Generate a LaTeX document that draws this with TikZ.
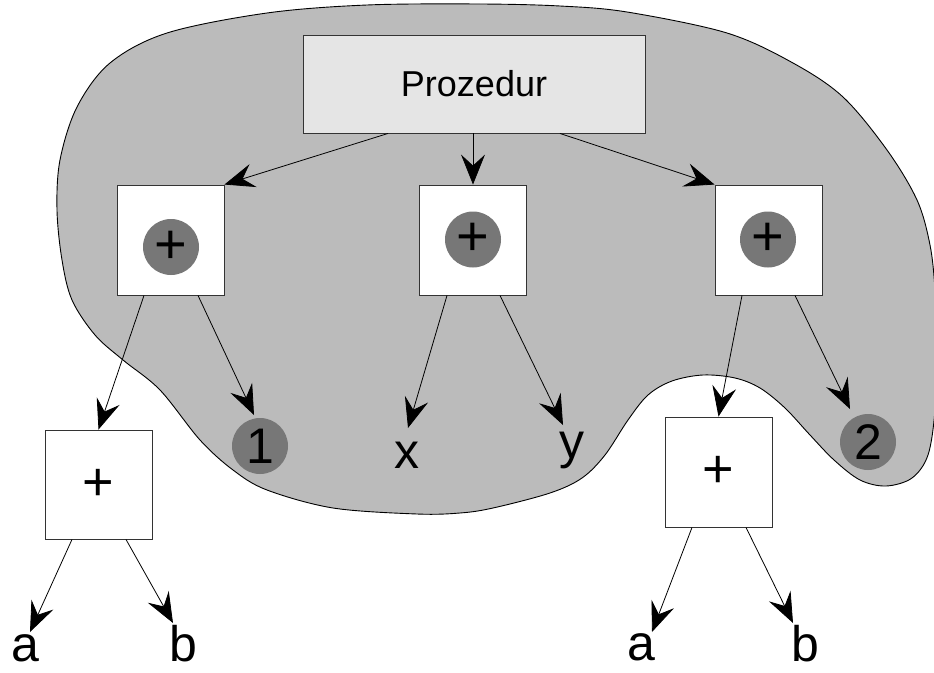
\documentclass[tikz,border=0pt]{standalone}
\usepackage{fontspec}
\setmainfont{Liberation Sans}
\usetikzlibrary{arrows.meta}
\definecolor{blobgray}{HTML}{BBBBBB}
\definecolor{headgray}{HTML}{E5E5E5}
\definecolor{opgray}{HTML}{777777}
\begin{document}
\begin{tikzpicture}[x=1pt,y=-1pt,
  blob/.style={fill=blobgray,draw=black,line width=0.9pt},
  procbox/.style={draw=black!80,fill=headgray,line width=0.9pt,minimum width=342pt,
    minimum height=98pt,inner sep=0pt,font=\fontsize{36}{40}\selectfont},
  opbox/.style={draw=black!80,fill=white,line width=0.9pt,minimum width=107pt,
    minimum height=110pt,inner sep=0pt,font=\fontsize{54}{58}\selectfont},
  opdot/.style={circle,fill=opgray,minimum size=56pt,inner sep=0pt,
    font=\fontsize{50}{54}\selectfont},
  plusdot/.style={opdot,font=\fontsize{56}{60}\selectfont},
  leaf/.style={inner sep=0pt,anchor=base,font=\fontsize{50}{54}\selectfont},
  edge/.style={-{Stealth[length=30pt,width=24pt,inset=11pt]},line width=0.8pt},
]
\useasboundingbox (0,0) rectangle (934,672);

% shaded region around the procedure body
\begin{scope}
\clip (0,0) rectangle (934,672);
\draw[blob] plot[smooth cycle,tension=0.55] coordinates {
  (480,4) (560,6) (627,12) (727,33) (793,63) (843,97) (887,150) (917,200)
  (930,245) (935,290) (937,350) (935,410) (928,455) (912,478) (886,486)
  (860,480) (834,460) (810,435) (785,408) (760,388) (735,378) (703,375)
  (672,381) (648,395) (628,420) (605,455) (582,478) (550,493) (493,508)
  (460,513) (417,514) (333,508) (267,490) (233,470) (200,440) (160,390)
  (123,360) (95,335) (72,300) (62,260) (57,210) (60,160) (77,107) (110,63)
  (167,33) (267,13) (367,5)};
\end{scope}

% procedure head
\node[procbox] (proc) at (474,84) {Prozedur};

% operator boxes of the body
\node[opbox] (opL) at (170.5,240) {};
\node[plusdot] (dotL) at (171,247) {+};
\node[opbox] (opM) at (473,240) {};
\node[plusdot] (dotM) at (473,239.5) {+};
\node[opbox] (opR) at (768.5,240) {};
\node[plusdot] (dotR) at (768,239.5) {+};

% argument subtrees
\node[opbox,minimum height=109pt] (subL) at (98.5,484.5) {+};
\node[opbox] (subR) at (718.5,472) {+};
\node[opdot] (one) at (260,446) {1};
\node[opdot] (two) at (868,442) {2};
\node[leaf] (x) at (407,468) {x};
\node[leaf] (y) at (572,458) {y};
\node[leaf] (aL) at (25,661) {a};
\node[leaf] (bL) at (183,661) {b};
\node[leaf] (aR) at (641,660) {a};
\node[leaf] (bR) at (805,661) {b};

% connectors
\draw[edge] ([xshift=-86pt]proc.south) -- (opL.north east);
\draw[edge] (proc.south -| opM.north) -- (opM.north);
\draw[edge] ([xshift=86pt]proc.south) -- (opR.north west);

\draw[edge] ([xshift=-26.5pt]opL.south) -- (subL.north);
\draw[edge] ([xshift=27.5pt]opL.south) -- ([shift={(-6,-31)}]one.center);
\draw[edge] ([xshift=-26pt]opM.south) -- ([shift={(1,-40)}]x.base);
\draw[edge] ([xshift=27pt]opM.south) -- ([shift={(-9,-33)}]y.base);
\draw[edge] ([xshift=-26.5pt]opR.south) -- (subR.north);
\draw[edge] ([xshift=26.5pt]opR.south) -- ([shift={(-18,-33)}]two.center);

\draw[edge] ([xshift=-26.5pt]subL.south) -- ([shift={(5,-29)}]aL.base);
\draw[edge] ([xshift=27.5pt]subL.south) -- ([shift={(-10,-38)}]bL.base);
\draw[edge] ([xshift=-26.5pt]subR.south) -- ([shift={(11,-28)}]aR.base);
\draw[edge] ([xshift=27.5pt]subR.south) -- ([shift={(-12,-38)}]bR.base);
\end{tikzpicture}
\end{document}
